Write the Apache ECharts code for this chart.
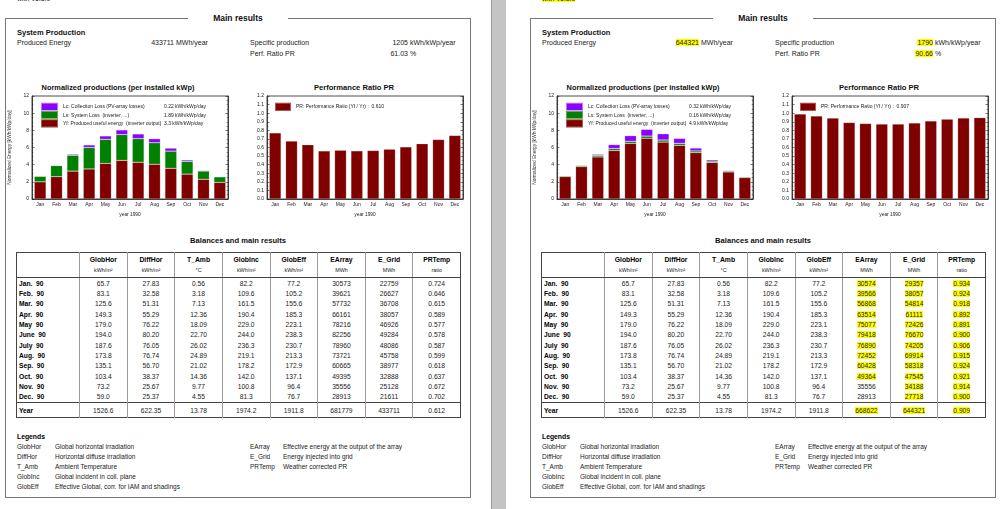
<!DOCTYPE html>
<html><head><meta charset="utf-8">
<script src="https://cdn.jsdelivr.net/npm/echarts/dist/echarts.min.js"></script>
<style>
html,body{margin:0;padding:0;width:1000px;height:509px;overflow:hidden;background:#fff;font-family:'Liberation Sans',Arial,sans-serif;color:#222;}
table.bal{position:absolute;left:16px;top:252px;width:445px;border-collapse:collapse;table-layout:fixed;border:1px solid #444;font-size:6.7px;}
table.bal td{padding:0;text-align:center;border-left:1px solid #9a9a9a;line-height:9px;white-space:nowrap;overflow:visible;color:#222;}
table.bal td.lab{text-align:left;padding-left:2px;font-weight:bold;color:#000;border-left:none;}
table.bal tr.h1 td{height:13px;font-weight:bold;color:#000;font-size:6.8px;}
table.bal tr.h2 td{height:11px;font-size:5.4px;border-bottom:1px solid #444;vertical-align:top;}
table.bal tr.d td{height:10.35px;}
table.bal tr.y td{height:14px;border-top:1px solid #444;}
.hl{background:#ffff00;}
</style>
</head><body>
<script>
// ---------- DATA ----------
const months = ['Jan','Feb','Mar','Apr','May','Jun','Jul','Aug','Sep','Oct','Nov','Dec'];
const rowLabels = ['Jan.  90','Feb.  90','Mar.  90','Apr.  90','May  90','June  90','July  90','Aug.  90','Sep.  90','Oct.  90','Nov.  90','Dec.  90'];
const colNames = ['GlobHor','DiffHor','T_Amb','GlobInc','GlobEff','EArray','E_Grid','PRTemp'];
const colUnits = ['kWh/m\u00b2','kWh/m\u00b2','\u00b0C','kWh/m\u00b2','kWh/m\u00b2','MWh','MWh','ratio'];

const globHor = ['65.7','83.1','125.6','149.3','179.0','194.0','187.6','173.8','135.1','103.4','73.2','59.0'];
const diffHor = ['27.83','32.58','51.31','55.29','76.22','80.20','76.05','76.74','56.70','38.37','25.67','25.37'];
const tAmb    = ['0.56','3.18','7.13','12.36','18.09','22.70','26.02','24.89','21.02','14.36','9.77','4.55'];
const globInc = ['82.2','109.6','161.5','190.4','229.0','244.0','236.3','219.1','178.2','142.0','100.8','81.3'];
const globEff = ['77.2','105.2','155.6','185.3','223.1','238.3','230.7','213.3','172.9','137.1','96.4','76.7'];
const yearClimate = ['1526.6','622.35','13.78','1974.2','1911.8'];

// left report
const eArrayA = ['30573','39621','57732','66161','78216','82256','78960','73721','60665','49395','35556','28913'];
const eGridA  = ['22759','26627','36708','38057','46926','49284','48086','45758','38977','32888','25128','21611'];
const prTempA = ['0.724','0.646','0.615','0.589','0.577','0.578','0.587','0.599','0.618','0.637','0.672','0.702'];
const yearA   = ['681779','433711','0.612'];
const yfA = [2.0, 2.6, 3.25, 3.5, 4.15, 4.5, 4.28, 4.05, 3.58, 2.9, 2.3, 1.94];
const lsA = [0.65, 1.3, 1.85, 2.5, 2.8, 3.0, 2.75, 2.5, 2.0, 1.48, 0.96, 0.64];
const lcA = [0.03, 0.03, 0.12, 0.3, 0.4, 0.55, 0.55, 0.48, 0.35, 0.17, 0.08, 0.06];
const prA = [0.77, 0.675, 0.632, 0.56, 0.568, 0.561, 0.565, 0.58, 0.607, 0.644, 0.693, 0.74];
const legendA = ['0.22 kWh/kWp/day','1.89 kWh/kWp/day','3.3 kWh/kWp/day','0.610'];
const summaryA = ['433711','1205','61.03'];

// right report
const eArrayB = ['30574','39566','56868','63514','75077','79418','76890','72452','60428','49364','35556','28913'];
const eGridB  = ['29357','38057','54814','61111','72426','76670','74205','69914','58318','47545','34188','27718'];
const prTempB = ['0.934','0.924','0.918','0.892','0.891','0.900','0.906','0.915','0.924','0.921','0.914','0.900'];
const yearB   = ['668622','644321','0.909'];
const yfB = [2.6, 3.76, 4.9, 5.65, 6.48, 7.08, 6.63, 6.25, 5.4, 4.25, 3.15, 2.48];
const lsB = [0.11, 0.15, 0.19, 0.22, 0.24, 0.25, 0.24, 0.23, 0.2, 0.16, 0.12, 0.11];
const lcB = [0.02, 0.02, 0.12, 0.47, 0.66, 0.78, 0.73, 0.58, 0.34, 0.16, 0.08, 0.04];
const prB = [0.99, 0.966, 0.943, 0.891, 0.879, 0.873, 0.873, 0.886, 0.909, 0.93, 0.943, 0.948];
const legendB = ['0.32 kWh/kWp/day','0.16 kWh/kWp/day','4.9 kWh/kWp/day','0.907'];
const summaryB = ['644321','1790','90.66'];

const legendTerms = ['GlobHor','DiffHor','T_Amb','GlobInc','GlobEff','EArray','E_Grid','PRTemp'];
const legendDescs = ['Global horizontal irradiation','Horizontal diffuse irradiation','Ambient Temperature','Global incident in coll. plane','Effective Global, corr. for IAM and shadings','Effective energy at the output of the array','Energy injected into grid','Weather corrected PR'];

// ---------- BUILD ----------
const FONT = "'Liberation Sans', Arial, sans-serif";
function el(parent, tag, css, html){const e=document.createElement(tag);e.style.cssText=css;if(html!=null)e.innerHTML=html;parent.appendChild(e);return e;}
function txt(p,x,y,s,extra){return el(p,'div',`position:absolute;left:${x}px;top:${y-5}px;line-height:10px;white-space:nowrap;color:#222;${extra||''}`,s);}
function txtR(p,xr,y,s,extra){return el(p,'div',`position:absolute;left:${xr-120}px;width:120px;text-align:right;top:${y-5}px;line-height:10px;white-space:nowrap;color:#222;${extra||''}`,s);}
function txtC(p,xc,y,s,extra){return el(p,'div',`position:absolute;left:${xc-150}px;width:300px;text-align:center;top:${y-5}px;line-height:10px;white-space:nowrap;color:#222;${extra||''}`,s);}
function H(s,on){return on?`<span class="hl">${s}</span>`:s;}

const axisCol='#222';
function frameAxes(min,max,interval,name,gap,minorSplit,fmt){
  return [{type:'value',min:min,max:max,interval:interval,name:name,nameLocation:'middle',nameGap:gap,
      nameTextStyle:{fontSize:4.8,color:'#333'},
      axisLine:{show:true,lineStyle:{color:axisCol,width:0.8}},axisTick:{show:true,inside:true,length:2.5,lineStyle:{color:axisCol,width:0.6}},
      minorTick:{show:true,splitNumber:minorSplit,length:1.3,lineStyle:{color:axisCol,width:0.5}},
      splitLine:{show:false},axisLabel:{fontSize:5,color:'#222',margin:3,formatter:fmt}},
      {type:'value',position:'right',min:min,max:max,interval:interval,
      axisLine:{show:true,lineStyle:{color:axisCol,width:0.8}},axisTick:{show:true,inside:true,length:2.5,lineStyle:{color:axisCol,width:0.6}},
      minorTick:{show:true,splitNumber:minorSplit,length:1.3,lineStyle:{color:axisCol,width:0.5}},
      splitLine:{show:false},axisLabel:{show:false}}];
}
function monthAxis(){
  return [{type:'category',data:months,name:'year 1990',nameLocation:'middle',nameGap:7.5,
      nameTextStyle:{fontSize:4.8,color:'#222'},
      axisLine:{lineStyle:{color:axisCol,width:0.8}},axisTick:{inside:true,length:2,lineStyle:{color:axisCol,width:0.6}},
      axisLabel:{fontSize:5,color:'#222',margin:3}}];
}
function normOption(yf, ls, lc, lv){
  const names=['Lc: Collection Loss (PV-array losses)','Ls: System Loss  (inverter, ...)','Yf: Produced useful energy  (inverter output)'];
  const vmap={}; names.forEach((n,i)=>vmap[n]=lv[i]);
  const legends = names.map((n,i)=>({left:40,top:11.7+i*8.3,itemWidth:17,itemHeight:8.3,itemGap:0,padding:0,icon:'rect',
      data:[n],selectedMode:false,
      formatter:x=>`{n|${x}}{v|${vmap[x]}}`,
      textStyle:{fontSize:5,color:'#222',rich:{n:{width:101,fontSize:5,color:'#222'},v:{fontSize:5,color:'#222'}}}}));
  return {
    animation:false,
    textStyle:{fontFamily:FONT},
    grid:{left:32,top:6,width:196,height:103,show:true,borderColor:axisCol,borderWidth:0.8,containLabel:false,outerBoundsMode:'none'},
    legend:legends,
    xAxis:monthAxis(),
    yAxis:frameAxes(0,12,2,'Normalized Energy [kWh/kWp/day]',10,4,v=>String(v)),
    series:[
      {name:names[2],type:'bar',stack:'s',data:yf,barCategoryGap:'28%',itemStyle:{color:'#800000',borderColor:'rgba(255,255,255,0.35)',borderWidth:0.5}},
      {name:names[1],type:'bar',stack:'s',data:ls,itemStyle:{color:'#008000',borderColor:'rgba(255,255,255,0.35)',borderWidth:0.5}},
      {name:names[0],type:'bar',stack:'s',data:lc,itemStyle:{color:'#8c00ff',borderColor:'rgba(255,255,255,0.45)',borderWidth:0.5}}
    ]
  };
}
function prOption(pr, pv){
  const name='PR: Performance Ratio (Yf / Yr) :  '+pv;
  return {
    animation:false,
    textStyle:{fontFamily:FONT},
    grid:{left:22,top:6,width:196,height:103,show:true,borderColor:axisCol,borderWidth:0.8,containLabel:false,outerBoundsMode:'none'},
    legend:{left:29,top:11.7,itemWidth:16,itemHeight:8.3,padding:0,icon:'rect',data:[name],selectedMode:false,
      textStyle:{fontSize:5,color:'#222'}},
    xAxis:monthAxis(),
    yAxis:frameAxes(0,1.2,0.1,'Performance Ratio PR',14,2,v=>v.toFixed(1)),
    series:[{name:name,type:'bar',data:pr,barCategoryGap:'28%',itemStyle:{color:'#800000',borderColor:'rgba(255,255,255,0.35)',borderWidth:0.5}}]
  };
}

function buildPage(offset, d){
  const p = el(document.body,'div',`position:absolute;left:${offset}px;top:0;width:490px;height:509px;`);
  const hi = d.hi;
  txt(p,17,-1,H('with v6.8.9',hi),'font-size:7px;');
  el(p,'div','position:absolute;left:5px;top:18px;width:464px;height:478px;border:1px solid #777;');
  txtC(p,238,18,'<span style="background:#fff;padding:0 25px;">Main results</span>','font-size:8.5px;font-weight:bold;color:#111;');
  txt(p,17,33,'System Production','font-size:7.5px;font-weight:bold;color:#111;');
  txt(p,17,43,'Produced Energy','font-size:7px;');
  txtR(p,174,43,H(d.summary[0],hi),'font-size:7px;');
  txt(p,176,43,'MWh/year','font-size:7px;');
  txt(p,250,43,'Specific production','font-size:7px;');
  txtR(p,408,43,H(d.summary[1],hi),'font-size:7px;');
  txt(p,410,43,'kWh/kWp/year','font-size:7px;');
  txt(p,250,54,'Perf. Ratio PR','font-size:7px;');
  txtR(p,408,54,H(d.summary[2],hi),'font-size:7px;');
  txt(p,410,54,'%','font-size:7px;');
  txtC(p,118,88,'Normalized productions (per installed kWp)','font-size:7.4px;font-weight:bold;color:#111;');
  txtC(p,354,88,'Performance Ratio PR','font-size:7.6px;font-weight:bold;color:#111;');
  const c1 = el(p,'div','position:absolute;left:0px;top:90px;width:240px;height:128px;');
  const c2 = el(p,'div','position:absolute;left:245px;top:90px;width:240px;height:128px;');
  echarts.init(c1,null,{renderer:'canvas'}).setOption(normOption(d.yf,d.ls,d.lc,d.legend));
  echarts.init(c2,null,{renderer:'canvas'}).setOption(prOption(d.pr,d.legend[3]));
  txtC(p,238,241,'Balances and main results','font-size:7.6px;font-weight:bold;color:#111;');
  const cols=[globHor,diffHor,tAmb,globInc,globEff,d.eArray,d.eGrid,d.prTemp];
  let h='<colgroup><col style="width:63px">'+colNames.map(()=>'<col>').join('')+'</colgroup>';
  h+='<tr class="h1"><td class="lab"></td>'+colNames.map(n=>`<td>${n}</td>`).join('')+'</tr>';
  h+='<tr class="h2"><td class="lab"></td>'+colUnits.map(n=>`<td>${n}</td>`).join('')+'</tr>';
  rowLabels.forEach((r,i)=>{
    h+=`<tr class="d"><td class="lab">${r.replace(/ /g,'&nbsp;')}</td>`+cols.map((c,j)=>{
      const on = hi && (j===6||j===7||(j===5&&i<10));
      return `<td>${H(c[i],on)}</td>`;}).join('')+'</tr>';
  });
  const yr=yearClimate.concat(d.year);
  h+='<tr class="y"><td class="lab">Year</td>'+yr.map((v,j)=>`<td>${H(v,hi&&j>=5)}</td>`).join('')+'</tr>';
  el(p,'table','',h).className='bal';
  txt(p,17,437,'Legends','font-size:6.8px;font-weight:bold;color:#000;');
  legendTerms.forEach((t,i)=>{
    const left = i<5; const row = left?i:i-5;
    const y = 446.7 + row*10.1;
    txt(p,left?17:250,y,t,'font-size:6.5px;');
    txt(p,left?55:283,y,legendDescs[i],'font-size:6.5px;');
  });
}

el(document.body,'div','position:absolute;left:491px;top:0;width:1px;height:509px;background:#9a9a9a;');
el(document.body,'div','position:absolute;left:492px;top:0;width:14px;height:509px;background:#c4c4c4;');

buildPage(0,{hi:false,summary:summaryA,yf:yfA,ls:lsA,lc:lcA,pr:prA,legend:legendA,eArray:eArrayA,eGrid:eGridA,prTemp:prTempA,year:yearA});
buildPage(525,{hi:true,summary:summaryB,yf:yfB,ls:lsB,lc:lcB,pr:prB,legend:legendB,eArray:eArrayB,eGrid:eGridB,prTemp:prTempB,year:yearB});
</script>
</body></html>
